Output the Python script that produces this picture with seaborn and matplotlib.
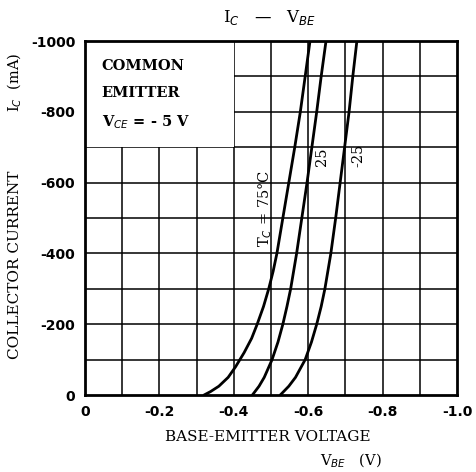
import matplotlib
matplotlib.use("Agg")
import matplotlib.pyplot as plt
import matplotlib.patches as mpatches
import pandas as pd
import seaborn as sns

# curves (V_BE in V, I_C in mA)
ic_75 = [0, 10, 25, 50, 80, 120, 160, 200, 250, 300, 350, 400, 500, 600, 700, 800, 900, 1000]
vbe_75 = [-0.320, -0.338, -0.360, -0.385, -0.405, -0.428, -0.448, -0.463, -0.480, -0.494, -0.506,
          -0.516, -0.532, -0.548, -0.564, -0.579, -0.592, -0.605]

ic_25 = [0, 25, 50, 100, 150, 200, 250, 300, 400, 500, 600, 700, 800, 900, 1000]
vbe_25 = [-0.450, -0.468, -0.482, -0.503, -0.519, -0.532, -0.543, -0.553, -0.569, -0.583, -0.597,
          -0.610, -0.623, -0.635, -0.648]

ic_m25 = [0, 25, 50, 100, 150, 200, 250, 300, 400, 500, 600, 700, 800, 900, 1000]
vbe_m25 = [-0.525, -0.548, -0.566, -0.592, -0.609, -0.623, -0.635, -0.645, -0.661, -0.674, -0.686,
           -0.698, -0.710, -0.720, -0.731]

x_ticks = [0, -0.2, -0.4, -0.6, -0.8, -1.0]
x_labels = ["0", "-0.2", "-0.4", "-0.6", "-0.8", "-1.0"]
y_ticks = [0, -200, -400, -600, -800, -1000]
y_labels = ["0", "-200", "-400", "-600", "-800", "-1000"]

df = pd.concat([
    pd.DataFrame({"vbe": vbe_75, "ic": [-v for v in ic_75], "tc": "75"}),
    pd.DataFrame({"vbe": vbe_25, "ic": [-v for v in ic_25], "tc": "25"}),
    pd.DataFrame({"vbe": vbe_m25, "ic": [-v for v in ic_m25], "tc": "-25"}),
])

sns.set_style("white")
plt.rcParams["font.family"] = ["DejaVu Serif", "DejaVu Sans"]
plt.rcParams["text.color"] = "black"
plt.rcParams["xtick.color"] = "black"
plt.rcParams["ytick.color"] = "black"

fig = plt.figure(figsize=(4.77, 4.72), dpi=100)
ax = fig.add_axes([0.178, 0.163, 0.780, 0.750])

# grid every 0.1 V / 100 mA
for i in range(1, 10):
    ax.axvline(-i / 10, color="black", lw=1.1, zorder=1)
    ax.axhline(-i * 100, color="black", lw=1.1, zorder=1)

# blank box in the upper left for the condition text
ax.add_patch(mpatches.Rectangle((0, -700), -0.4, -300, facecolor="white",
                                edgecolor="none", zorder=2))

sns.lineplot(data=df, x="vbe", y="ic", units="tc", estimator=None, sort=False,
             color="black", lw=2.0, ax=ax, zorder=3)

ax.set_xlim(0, -1.0)
ax.set_ylim(0, -1000)
ax.set_xticks(x_ticks)
ax.set_xticklabels(x_labels, fontsize=10, family="DejaVu Sans", fontweight="bold")
ax.set_yticks(y_ticks)
ax.set_yticklabels(y_labels, fontsize=10, family="DejaVu Sans", fontweight="bold")
ax.tick_params(axis="both", direction="out", length=4, width=1.2, pad=3)
ax.set_xlabel("")
ax.set_ylabel("")
for sp in ax.spines.values():
    sp.set_visible(True)
    sp.set_color("black")
    sp.set_linewidth(2.0)
    sp.set_zorder(4)

tk = dict(fontsize=10.5, fontweight="bold", family="DejaVu Serif", zorder=5)
ax.text(-0.045, -930, "COMMON", ha="left", va="center", **tk)
ax.text(-0.045, -852, "EMITTER", ha="left", va="center", **tk)
ax.text(-0.045, -772, "V$_{CE}$ = - 5 V", ha="left", va="center", **tk)

ax.text(-0.484, -528, "T$_C$ = 75°C", rotation=90, ha="center", va="center", fontsize=10.5, zorder=5)
ax.text(-0.637, -672, "25", rotation=90, ha="center", va="center", fontsize=10.5, zorder=5)
ax.text(-0.734, -678, "-25", rotation=90, ha="center", va="center", fontsize=10.5, zorder=5)

fig.text(0.566, 0.962, "I$_C$   —   V$_{BE}$", ha="center", va="center", fontsize=12)
fig.text(0.032, 0.826, "I$_C$  (mA)", rotation=90, ha="center", va="center", fontsize=10.5)
fig.text(0.032, 0.440, "COLLECTOR CURRENT", rotation=90, ha="center", va="center", fontsize=11)
fig.text(0.562, 0.074, "BASE-EMITTER VOLTAGE", ha="center", va="center", fontsize=11)
fig.text(0.735, 0.024, "V$_{BE}$   (V)", ha="center", va="center", fontsize=10.5)

fig.savefig("out.png", dpi=100, facecolor="white")
